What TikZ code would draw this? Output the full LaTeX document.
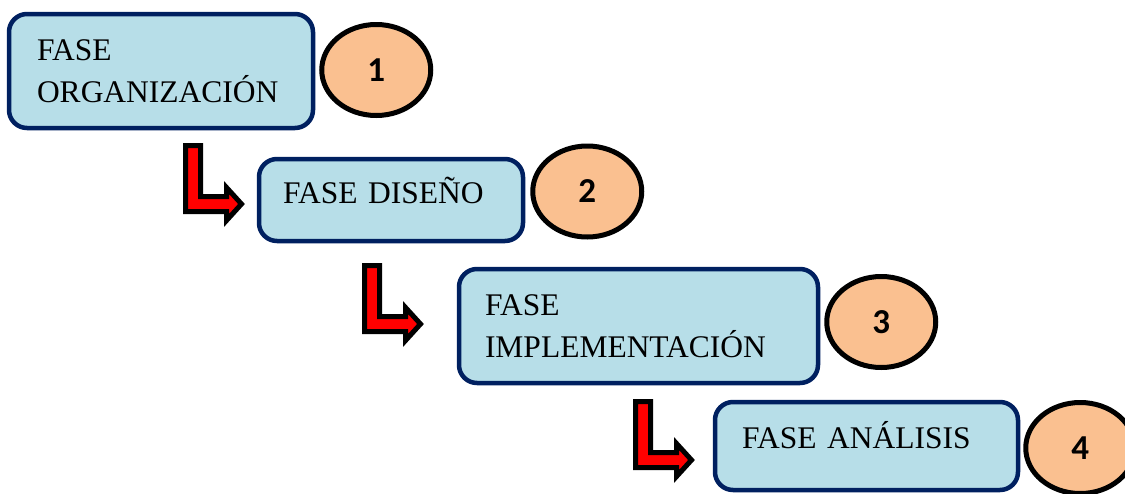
\documentclass[tikz,border=0pt]{standalone}
\usepackage{fontspec}
\setmainfont{Liberation Serif}
\newfontfamily\numfont{Carlito}[BoldFont={Carlito Bold}]
\usetikzlibrary{calc}
\usetikzlibrary{shapes.geometric}

\definecolor{faseborde}{HTML}{002060}
\definecolor{fasefondo}{HTML}{B7DEE8}
\definecolor{numfondo}{HTML}{FAC090}

% L-shaped red arrow, #1 is its top left corner
\newcommand{\bentarrow}[1]{%
  \draw[bent] (#1) ++(2.5,2.5) -- ++(15,0) -- ++(0,51) -- ++(26,0) -- ++(0,-9)
    -- ++(15,16.5) -- ++(-15,16.5) -- ++(0,-9) -- ++(-41,0) -- cycle;}

\begin{document}
\begin{tikzpicture}
        [
        x=1pt, y=-1pt,
        fase/.style={draw=faseborde,fill=fasefondo,line width=4.5pt,rounded corners=18pt,
          align=left,font=\fontsize{31.5}{42}\selectfont},
        num/.style={ellipse,draw=black,fill=numfondo,line width=5pt,
          minimum width=109pt,minimum height=91pt,inner sep=0pt,
          font=\fontsize{35}{35}\numfont\bfseries},
        bent/.style={draw=black,fill=red,line width=5pt,line join=miter}
        ]
        \path[use as bounding box,clip] (0,0) rectangle (1125,493);

        \node[fase,minimum width=304pt,minimum height=114pt,text width=248pt,inner xsep=28pt] (f1) at (161,71) {FASE\\ORGANIZACIÓN};
        \node[fase,minimum width=264pt,minimum height=82pt,text width=216pt,inner xsep=24pt,
          text height=21pt,text depth=15pt] (f2) at (391,200) {FASE DISEÑO};
        \node[fase,minimum width=359pt,minimum height=114pt,text width=307pt,inner xsep=26pt] (f3) at (638.5,326) {FASE\\IMPLEMENTACIÓN};
        \node[fase,minimum width=303pt,minimum height=88pt,text width=249pt,inner xsep=27pt,
          text height=21pt,text depth=17pt] (f4) at (866.5,446) {FASE ANÁLISIS};

        \node[num] (n1) at ($(f1.east) + (61,-1)$) {1};
        \node[num] (n2) at ($(f2.east) + (62,-8.5)$) {2};
        \node[num] (n3) at ($(f3.east) + (61,-4)$) {3};
        \node[num] (n4) at ($(f4.east) + (60,2)$) {4};

        \coordinate (a1) at (183,143);
        \coordinate (a2) at (362,263);
        \coordinate (a3) at (633,399);

        \bentarrow{a1}
        \bentarrow{a2}
        \bentarrow{a3}
\end{tikzpicture}
\end{document}
